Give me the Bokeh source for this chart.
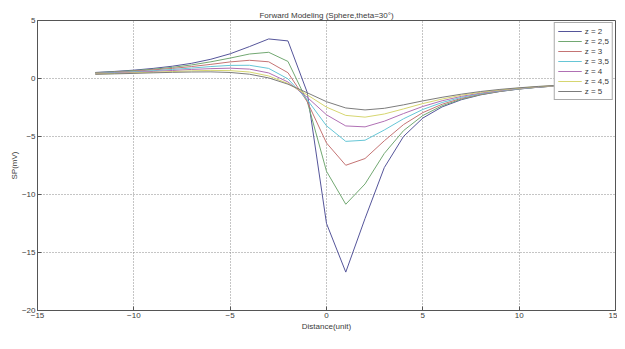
from bokeh.plotting import figure
from bokeh.models import FixedTicker, Legend, LegendItem
from bokeh.embed import file_html
from bokeh.resources import INLINE

# Distance (unit) sample positions
distance = [-12, -11, -10, -9, -8, -7, -6, -5, -4, -3, -2, -1, 0,
            1, 2, 3, 4, 5, 6, 7, 8, 9, 10, 11, 12]

# SP (mV) for each depth z
sp_z2 = [0.52, 0.61, 0.72, 0.87, 1.06, 1.31, 1.66, 2.13, 2.75, 3.41, 3.24, -1.20, -12.50,
         -16.69, -12.07, -7.68, -4.99, -3.41, -2.45, -1.83, -1.41, -1.12, -0.91, -0.75, -0.63]
sp_z25 = [0.50, 0.58, 0.68, 0.80, 0.96, 1.17, 1.44, 1.76, 2.11, 2.26, 1.47, -1.97, -8.00,
          -10.84, -9.09, -6.46, -4.49, -3.19, -2.35, -1.78, -1.39, -1.11, -0.90, -0.75, -0.63]
sp_z3 = [0.47, 0.54, 0.63, 0.74, 0.87, 1.03, 1.22, 1.43, 1.57, 1.44, 0.50, -2.00, -5.56,
         -7.48, -6.90, -5.37, -3.97, -2.94, -2.22, -1.71, -1.35, -1.09, -0.89, -0.74, -0.63]
sp_z35 = [0.44, 0.51, 0.58, 0.67, 0.78, 0.90, 1.03, 1.13, 1.14, 0.87, -0.03, -1.83, -4.08,
          -5.42, -5.32, -4.44, -3.47, -2.67, -2.07, -1.63, -1.30, -1.06, -0.88, -0.73, -0.62]
sp_z4 = [0.41, 0.47, 0.53, 0.61, 0.69, 0.78, 0.85, 0.89, 0.81, 0.48, -0.30, -1.62, -3.13,
         -4.09, -4.17, -3.68, -3.02, -2.41, -1.92, -1.54, -1.25, -1.03, -0.85, -0.72, -0.61]
sp_z45 = [0.39, 0.43, 0.49, 0.54, 0.60, 0.66, 0.70, 0.68, 0.56, 0.22, -0.43, -1.41, -2.47,
          -3.18, -3.33, -3.06, -2.62, -2.16, -1.77, -1.44, -1.19, -0.99, -0.83, -0.70, -0.60]
sp_z5 = [0.36, 0.40, 0.44, 0.49, 0.53, 0.56, 0.57, 0.52, 0.37, 0.05, -0.49, -1.23, -2.00,
         -2.54, -2.71, -2.57, -2.27, -1.93, -1.62, -1.35, -1.12, -0.94, -0.80, -0.68, -0.59]

series = [sp_z2, sp_z25, sp_z3, sp_z35, sp_z4, sp_z45, sp_z5]
labels = ["z = 2", "z = 2,5", "z = 3", "z = 3,5", "z = 4", "z = 4,5", "z = 5"]
colors = ["#55559a", "#72a872", "#c47474", "#66c6d6", "#b070b4", "#d6d670", "#7c7c7c"]

x_ticks = [-15, -10, -5, 0, 5, 10, 15]
y_ticks = [-20, -15, -10, -5, 0, 5]

FONT = "Liberation Sans"
TXT = "#3a3a3a"

p = figure(width=617, height=333, x_range=(-15, 15), y_range=(-20, 5),
           output_backend="svg", toolbar_location=None,
           title="Forward Modeling (Sphere,theta=30°)",
           min_border_left=37, min_border_right=2, min_border_top=20, min_border_bottom=0)

p.title.align = "center"
p.title.text_font = FONT
p.title.text_font_size = "8px"
p.title.text_font_style = "normal"
p.title.text_color = TXT
p.title.standoff = 1

p.background_fill_color = "white"
p.border_fill_color = "white"
p.outline_line_color = "#555555"
p.outline_line_width = 1

for ax, ticks in ((p.xaxis, x_ticks), (p.yaxis, y_ticks)):
    ax.ticker = FixedTicker(ticks=ticks)
    ax.major_label_text_font = FONT
    ax.major_label_text_font_size = "8px"
    ax.major_label_text_color = TXT
    ax.axis_label_text_font = FONT
    ax.axis_label_text_font_size = "8px"
    ax.axis_label_text_font_style = "normal"
    ax.axis_label_text_color = TXT
    ax.axis_line_color = "#555555"
    ax.major_tick_line_color = "#555555"
    ax.major_tick_in = 4
    ax.major_tick_out = 0
    ax.minor_tick_line_color = None
    ax.major_label_standoff = 2
    ax.axis_label_standoff = 1

p.yaxis.axis_label_standoff = 0
p.xaxis.axis_label = "Distance(unit)"
p.yaxis.axis_label = "SP(mV)"

for g in (p.xgrid, p.ygrid):
    g.grid_line_color = "#8a8a8a"
    g.grid_line_dash = "1 2"
    g.grid_line_width = 1

items = []
for vals, lab, col in zip(series, labels, colors):
    r = p.line(distance, vals, line_color=col, line_width=1)
    items.append(LegendItem(label=lab, renderers=[r]))

legend = Legend(items=items, location="top_right")
legend.margin = 2
legend.padding = 3
legend.spacing = 0
legend.label_text_font = FONT
legend.label_text_font_size = "8px"
legend.label_text_color = TXT
legend.glyph_width = 24
legend.glyph_height = 10
legend.label_height = 10
legend.label_standoff = 3
legend.border_line_color = "#555555"
legend.background_fill_color = "white"
legend.background_fill_alpha = 1
p.add_layout(legend)

open("out.html", "w").write(file_html(p, INLINE))
